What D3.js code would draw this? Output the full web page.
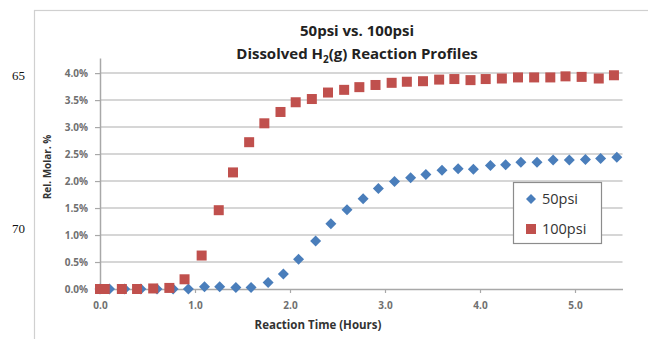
<!DOCTYPE html>
<html>
<head>
<meta charset="utf-8">
<script src="https://cdn.jsdelivr.net/npm/d3@7"></script>
<style>
  html, body { margin: 0; padding: 0; background: #fff; }
  svg { display: block; font-family: "Open Sans", Lato, sans-serif; }
</style>
</head>
<body>
<svg id="chart" width="648" height="339"></svg>
<script>
// Data (hours, rel. molar %).
var time100 = [0, 0.05, 0.23, 0.39, 0.56, 0.73, 0.89, 1.07, 1.25, 1.40, 1.57, 1.73,
               1.90, 2.06, 2.23, 2.40, 2.57, 2.73, 2.90, 3.07, 3.23, 3.40, 3.57, 3.73,
               3.90, 4.06, 4.23, 4.40, 4.57, 4.74, 4.90, 5.07, 5.25, 5.41];
var psi100  = [0, 0, 0, 0, 0.01, 0.02, 0.18, 0.62, 1.46, 2.16, 2.72, 3.07,
               3.28, 3.46, 3.52, 3.64, 3.69, 3.74, 3.78, 3.82, 3.84, 3.85, 3.88, 3.89,
               3.87, 3.89, 3.90, 3.92, 3.92, 3.92, 3.94, 3.93, 3.90, 3.96];

var time50 = [0, 0.10, 0.26, 0.43, 0.60, 0.77, 0.93, 1.10, 1.26, 1.43, 1.59, 1.77,
              1.93, 2.09, 2.27, 2.43, 2.60, 2.77, 2.93, 3.10, 3.27, 3.43, 3.60, 3.77,
              3.93, 4.11, 4.27, 4.43, 4.60, 4.77, 4.94, 5.11, 5.27, 5.44];
var psi50  = [0, 0, 0, 0, 0, 0, 0, 0.04, 0.04, 0.03, 0.03, 0.12,
              0.28, 0.55, 0.89, 1.21, 1.47, 1.67, 1.86, 1.99, 2.06, 2.12, 2.20, 2.23,
              2.22, 2.29, 2.30, 2.35, 2.35, 2.39, 2.39, 2.40, 2.42, 2.44];

var xTicks = [0, 1, 2, 3, 4, 5];
var yTicks = [0, 0.5, 1.0, 1.5, 2.0, 2.5, 3.0, 3.5, 4.0];
var seriesNames = ['50psi', '100psi'];
var lineNumbers = ['65', '70'];

var red  = '#C0504D';
var blue = '#4A7EBB';

var svg = d3.select('#chart');

var x = d3.scaleLinear().domain([0, 5.5]).range([100, 622.5]);
var y = d3.scaleLinear().domain([0, 4.28]).range([289, 58]);

// Outer chart frame (cut off at right and bottom like the scan).
svg.append('rect')
   .attr('x', 34.5).attr('y', 10.5)
   .attr('width', 640).attr('height', 340)
   .style('fill', 'none')
   .style('stroke', '#d0d0d0')
   .style('stroke-width', 1.2);

// Document line numbers in the margin.
svg.selectAll('text.lineno')
   .data(lineNumbers).enter().append('text')
   .attr('class', 'lineno')
   .attr('x', 12)
   .attr('y', function(d, i) { return i === 0 ? 80 : 233; })
   .style('font-family', '"Liberation Serif", "DejaVu Serif", serif')
   .style('font-size', '13px')
   .style('fill', '#111')
   .text(function(d) { return d; });

// Gridlines.
svg.append('g').selectAll('line')
   .data(yTicks.slice(1)).enter().append('line')
   .attr('x1', x(0)).attr('x2', x(5.5))
   .attr('y1', function(d) { return y(d); })
   .attr('y2', function(d) { return y(d); })
   .style('stroke', '#c8c8c8')
   .style('stroke-width', 1.5);

// Axes.
var yAxis = svg.append('g')
   .attr('transform', 'translate(' + x(0) + ',0)')
   .call(d3.axisLeft(y).tickValues(yTicks).tickSizeInner(5).tickSizeOuter(0)
           .tickPadding(7)
           .tickFormat(function(d) { return d.toFixed(1) + '%'; }));

var xAxis = svg.append('g')
   .attr('transform', 'translate(0,' + y(0) + ')')
   .call(d3.axisBottom(x).tickValues(xTicks).tickSizeInner(4).tickSizeOuter(0)
           .tickPadding(9)
           .tickFormat(d3.format('.1f')));

[xAxis, yAxis].forEach(function(a) {
  a.select('.domain').style('stroke', '#a8a8a8').style('stroke-width', 1.5);
  a.selectAll('.tick line').style('stroke', '#a8a8a8').style('stroke-width', 1.2);
  a.selectAll('.tick text')
   .style('font-family', '"Open Sans", sans-serif')
   .style('font-size', '10px')
   .style('font-weight', 'bold')
   .style('fill', '#707070');
});

// Blue diamonds (50psi), drawn under the red squares.
var diamond = 'M0,-5.5L5.5,0L0,5.5L-5.5,0Z';
svg.append('g').selectAll('path')
   .data(psi50).enter().append('path')
   .attr('d', diamond)
   .attr('transform', function(d, i) {
     return 'translate(' + x(time50[i]) + ',' + y(d) + ')';
   })
   .style('fill', blue);

// Red squares (100psi).
svg.append('g').selectAll('rect')
   .data(psi100).enter().append('rect')
   .attr('x', function(d, i) { return x(time100[i]) - 5; })
   .attr('y', function(d) { return y(d) - 5; })
   .attr('width', 10).attr('height', 10)
   .style('fill', red);

// Titles.
var title = svg.append('text')
   .attr('x', 357)
   .attr('text-anchor', 'middle')
   .style('font-size', '15px')
   .style('font-weight', 'bold')
   .style('fill', '#222');
title.append('tspan').attr('x', 357).attr('y', 36).text('50psi vs. 100psi');
var line2 = title.append('tspan').attr('x', 357).attr('y', 59);
line2.append('tspan').text('Dissolved H');
line2.append('tspan').attr('dy', 4).style('font-size', '10px').text('2');
line2.append('tspan').attr('dy', -4).text('(g) Reaction Profiles');

svg.append('text')
   .attr('x', 318).attr('y', 329)
   .attr('text-anchor', 'middle')
   .style('font-size', '11.5px')
   .style('font-weight', 'bold')
   .style('fill', '#333')
   .text('Reaction Time (Hours)');

svg.append('text')
   .attr('transform', 'translate(51,167) rotate(-90)')
   .attr('text-anchor', 'middle')
   .style('font-size', '10px')
   .style('font-weight', 'bold')
   .style('fill', '#333')
   .text('Rel. Molar. %');

// Legend.
var legend = svg.append('g').attr('transform', 'translate(513,182)');
legend.append('rect')
   .attr('x', 0.5).attr('y', 0.5)
   .attr('width', 88).attr('height', 61)
   .style('fill', '#fff')
   .style('stroke', '#8c8c8c')
   .style('stroke-width', 1.2);

var items = legend.selectAll('g.item')
   .data(seriesNames).enter().append('g')
   .attr('class', 'item')
   .attr('transform', function(d, i) { return 'translate(18,' + (17 + i * 30) + ')'; });

items.each(function(d, i) {
  var g = d3.select(this);
  if (i === 0) {
    g.append('path').attr('d', 'M0,-5L5,0L0,5L-5,0Z').style('fill', blue);
  } else {
    g.append('rect').attr('x', -5).attr('y', -5).attr('width', 10).attr('height', 10).style('fill', red);
  }
  g.append('text')
   .attr('x', 11).attr('y', 5)
   .style('font-size', '14.5px')
   .style('fill', '#333')
   .text(d);
});
</script>
</body>
</html>
